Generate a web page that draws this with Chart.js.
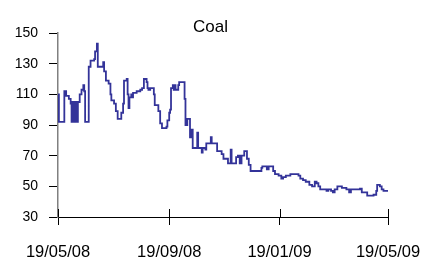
<!DOCTYPE html>
<html>
<head>
<meta charset="utf-8">
<script src="https://cdn.jsdelivr.net/npm/chart.js@4.4.1/dist/chart.umd.min.js"></script>
<style>
  html, body { margin: 0; padding: 0; background: #fff; }
  #wrap { width: 421px; height: 262px; }
</style>
</head>
<body>
<div id="wrap"><canvas id="coalChart"></canvas></div>
<script>
// days since 19/05/08 and the price on that day (held until the next entry)
const dayNo = [0, 1, 7, 9, 12, 14, 15, 16, 18, 19, 21, 22, 24, 26, 28, 29, 30, 34, 36, 40,
  41, 43, 44, 49, 50, 51, 53, 56, 58, 59, 62, 64, 66, 68, 70, 72, 73, 76, 77, 78,
  79, 81, 82, 83, 87, 91, 93, 95, 98, 99, 100, 102, 106, 107, 111, 113, 115, 120, 121, 123,
  124, 125, 127, 128, 129, 130, 133, 134, 140, 141, 143, 146, 147, 149, 154, 155, 159, 160, 163, 164,
  169, 170, 176, 181, 183, 188, 191, 192, 197, 199, 201, 203, 206, 209, 211, 213, 225, 226, 231, 233,
  238, 240, 244, 247, 249, 252, 257, 266, 268, 271, 274, 278, 281, 284, 286, 288, 290, 294, 297, 299,
  302, 304, 306, 309, 314, 319, 322, 324, 334, 336, 342, 349, 352, 353, 356, 358, 360, 365];
const coalPrice = [110, 92, 112, 109, 107, 104, 92, 105, 92, 105, 92, 105, 110, 113, 116, 112, 92, 128, 132, 133,
  138, 143, 128, 128, 131, 125, 119, 117, 110, 106, 104, 99, 94, 94, 98, 104, 119, 120, 110, 101,
  108, 110, 108, 111, 112, 113, 114, 120, 118, 114, 113, 114, 110, 103, 99, 91, 88, 89, 93, 98,
  100, 114, 116, 113, 116, 113, 116, 118, 107, 90, 94, 82, 87, 75, 85, 75, 72, 75, 74, 78,
  82, 78, 73, 71, 68, 65, 74, 65, 69, 70, 65, 70, 73, 68, 64, 60, 62, 63, 61, 63,
  60, 58, 57, 55, 56, 57, 58, 57, 55, 54, 53, 51, 50, 53, 52, 50, 48, 48, 47, 48,
  47, 46, 48, 50, 49, 48, 46, 48, 48.5, 46, 44, 44.5, 47, 51, 50, 48, 47, 47];

const tickDays = [0, 123, 245, 365];
const tickLabels = ['19/05/08', '19/09/08', '19/01/09', '19/05/09'];

const FONT = 'Liberation Sans, Arial, Helvetica, sans-serif';

// little stubs so the date ticks cross the axis line
const tickStubs = {
  id: 'tickStubs',
  afterDraw(chart) {
    const sx = chart.scales.x;
    const c = chart.ctx;
    const b = chart.chartArea.bottom;
    c.save();
    c.strokeStyle = '#000';
    c.lineWidth = 1;
    sx.ticks.forEach(t => {
      const px = Math.round(sx.getPixelForValue(t.value)) + 0.5;
      c.beginPath();
      c.moveTo(px, b - 8);
      c.lineTo(px, b);
      c.stroke();
    });
    c.restore();
  }
};

new Chart(document.getElementById('coalChart'), {
  type: 'line',
  data: {
    datasets: [{
      label: 'Coal',
      data: dayNo.map((d, i) => ({ x: d, y: coalPrice[i] })),
      borderColor: '#333399',
      borderWidth: 1.8,
      pointRadius: 0,
      stepped: 'before',
      fill: false
    }]
  },
  options: {
    responsive: true,
    maintainAspectRatio: false,
    animation: false,
    layout: { padding: 0 },
    plugins: {
      legend: { display: false },
      tooltip: { enabled: false },
      title: {
        display: true,
        text: 'Coal',
        color: '#000',
        font: { family: FONT, size: 17, weight: 'normal', lineHeight: 0.6 },
        padding: { top: 22.5, bottom: 0.3 }
      }
    },
    scales: {
      x: {
        type: 'linear',
        min: 0,
        max: 365,
        afterBuildTicks: s => { s.ticks = tickDays.map(v => ({ value: v })); },
        afterFit: s => { s.height = 45; s.paddingLeft = 0; s.paddingRight = 33; },
        ticks: {
          autoSkip: false,
          maxRotation: 0,
          padding: 18,
          color: '#000',
          font: { family: FONT, size: 16.5 },
          callback: v => tickLabels[tickDays.indexOf(v)]
        },
        grid: { drawOnChartArea: false, tickLength: 8, color: '#000' },
        border: { color: '#000', width: 1 }
      },
      y: {
        min: 30,
        max: 150,
        afterFit: s => { s.width = 58; },
        ticks: {
          stepSize: 20,
          padding: 11,
          color: '#000',
          font: { family: FONT, size: 14 }
        },
        grid: { drawOnChartArea: false, tickLength: 9, color: '#000' },
        border: { color: '#808080', width: 1.5 }
      }
    }
  },
  plugins: [tickStubs]
});
</script>
</body>
</html>
